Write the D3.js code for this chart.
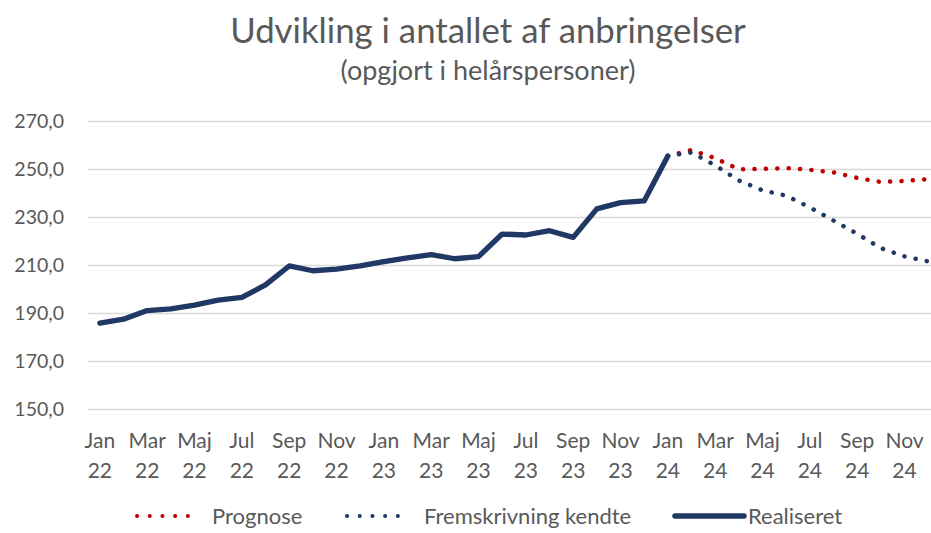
<!DOCTYPE html>
<html>
<head>
<meta charset="utf-8">
<script src="https://cdn.jsdelivr.net/npm/d3@7"></script>
<style>
    body { margin: 0; background: #fff; }
    svg text { font-family: Lato, "Open Sans", sans-serif; fill: #595959; }
    .grid line { stroke: #d9d9d9; stroke-width: 1.3; }
    .grid .domain { display: none; }
</style>
</head>
<body>
<div class="chart-anbringelser"><svg></svg></div>
<script>
'use strict';

// Maaneder jan 2022 - dec 2024
var maaneder = ['Jan', 'Feb', 'Mar', 'Apr', 'Maj', 'Jun', 'Jul', 'Aug', 'Sep', 'Okt', 'Nov', 'Dec'];
var aar = ['22', '23', '24'];
var yTicks = [150, 170, 190, 210, 230, 250, 270];

// Realiseret jan 22 - jan 24
var realiseret = [185.8, 187.4, 191.0, 191.7, 193.3, 195.4, 196.5, 201.7, 209.6, 207.6, 208.3, 209.6,
    211.4, 213.0, 214.3, 212.6, 213.5, 222.9, 222.5, 224.3, 221.5, 233.4, 236.0, 236.7,
    255.4];
// Prognose og fremskrivning jan 24 - dec 24
var prognose = [255.4, 257.9, 254.5, 249.9, 250.0, 250.4, 249.7, 248.6, 246.3, 244.6, 245.0, 245.8];
var fremskrivning = [255.4, 256.9, 251.5, 245.2, 241.1, 238.9, 234.0, 228.5, 223.0, 217.0, 213.6, 211.5];

function lineChart() {
    var margin = { top: 121, right: 0, bottom: 124, left: 88 };
    var w = 931, h = 533;
    var width = 852; // sidste kategori gaar lidt ud over kanten
    var height = h - margin.top - margin.bottom;
    var svg = d3.select('.chart-anbringelser svg').attr('width', w).attr('height', h);
    var scales = {};

    var kategorier = [];
    aar.forEach(function (a) {
        maaneder.forEach(function (m) { kategorier.push(m + ' ' + a); });
    });

    function setupScales() {
        scales.x = d3.scaleBand().domain(kategorier).range([0, width]);
        scales.y = d3.scaleLinear().domain([150, 270]).range([height, 0]);
    }

    function xPos(i) {
        return scales.x(kategorier[i]) + scales.x.bandwidth() / 2;
    }

    //Titel
    svg.append('text').attr('x', 488).attr('y', 43).attr('text-anchor', 'middle')
        .style('font-size', '34.8px').text('Udvikling i antallet af anbringelser');
    svg.append('text').attr('x', 488).attr('y', 80).attr('text-anchor', 'middle')
        .style('font-size', '27px').text('(opgjort i helårspersoner)');

    setupScales();

    var g = svg.append('g').attr('transform', 'translate(' + margin.left + ',' + margin.top + ')');

    //Gitterlinjer + y-akse
    var axisY = d3.axisLeft(scales.y).tickValues(yTicks).tickSize(-(w - margin.left))
        .tickFormat(function (d) { return d3.format('.1f')(d).replace('.', ','); });
    g.append('g').attr('class', 'grid').call(axisY)
        .call(function (s) {
            s.selectAll('line').attr('x1', 0);
            s.selectAll('text').attr('x', -24).attr('dy', '0.35em').style('font-size', '19.5px');
        });

    //x-akse, hver anden maaned, to linjer
    var axisX = d3.axisBottom(scales.x)
        .tickValues(kategorier.filter(function (d, i) { return i % 2 === 0; }))
        .tickSize(0).tickFormat('');
    var gx = g.append('g').attr('transform', 'translate(0,' + height + ')').call(axisX);
    gx.select('.domain').remove();
    gx.selectAll('.tick').each(function (d) {
        var parts = d.split(' ');
        var t = d3.select(this).append('text').attr('text-anchor', 'middle').style('font-size', '21px');
        t.append('tspan').attr('x', 0).attr('y', 39).text(parts[0]);
        t.append('tspan').attr('x', 0).attr('y', 69).text(parts[1]);
    });

    var line = d3.line()
        .x(function (d) { return xPos(d.i); })
        .y(function (d) { return scales.y(d.v); });

    var start = realiseret.length - 1;
    function toPts(arr, offset) {
        return arr.map(function (v, k) { return { i: k + offset, v: v }; });
    }

    g.append('path').datum(toPts(prognose, start)).attr('d', line)
        .attr('fill', 'none').attr('stroke', '#c00000').attr('stroke-width', 4.5)
        .attr('stroke-linecap', 'round').attr('stroke-dasharray', '0.1 11.3');

    g.append('path').datum(toPts(fremskrivning, start)).attr('d', line)
        .attr('fill', 'none').attr('stroke', '#1f3864').attr('stroke-width', 4.5)
        .attr('stroke-linecap', 'round').attr('stroke-dasharray', '0.1 11.3');

    g.append('path').datum(toPts(realiseret, 0)).attr('d', line)
        .attr('fill', 'none').attr('stroke', '#1f3864').attr('stroke-width', 5.3)
        .attr('stroke-linejoin', 'round').attr('stroke-linecap', 'round');

    //Legende
    var legend = [
        { navn: 'Prognose', farve: '#c00000', dash: true, x: 137, tx: 212 },
        { navn: 'Fremskrivning kendte', farve: '#1f3864', dash: true, x: 347, tx: 424 },
        { navn: 'Realiseret', farve: '#1f3864', dash: false, x: 675, tx: 748 }
    ];
    var lg = svg.append('g').attr('transform', 'translate(0,516)');
    legend.forEach(function (d) {
        var l = lg.append('line').attr('x1', d.x).attr('x2', d.x + (d.dash ? 63 : 69))
            .attr('y1', 0).attr('y2', 0).attr('stroke', d.farve)
            .attr('stroke-width', d.dash ? 4 : 5.5).attr('stroke-linecap', 'round');
        if (d.dash) l.attr('stroke-dasharray', '0.1 12.6');
        lg.append('text').attr('x', d.tx).attr('y', 0).attr('dy', '0.35em')
            .style('font-size', '22px').text(d.navn);
    });
}

lineChart();
</script>
</body>
</html>
